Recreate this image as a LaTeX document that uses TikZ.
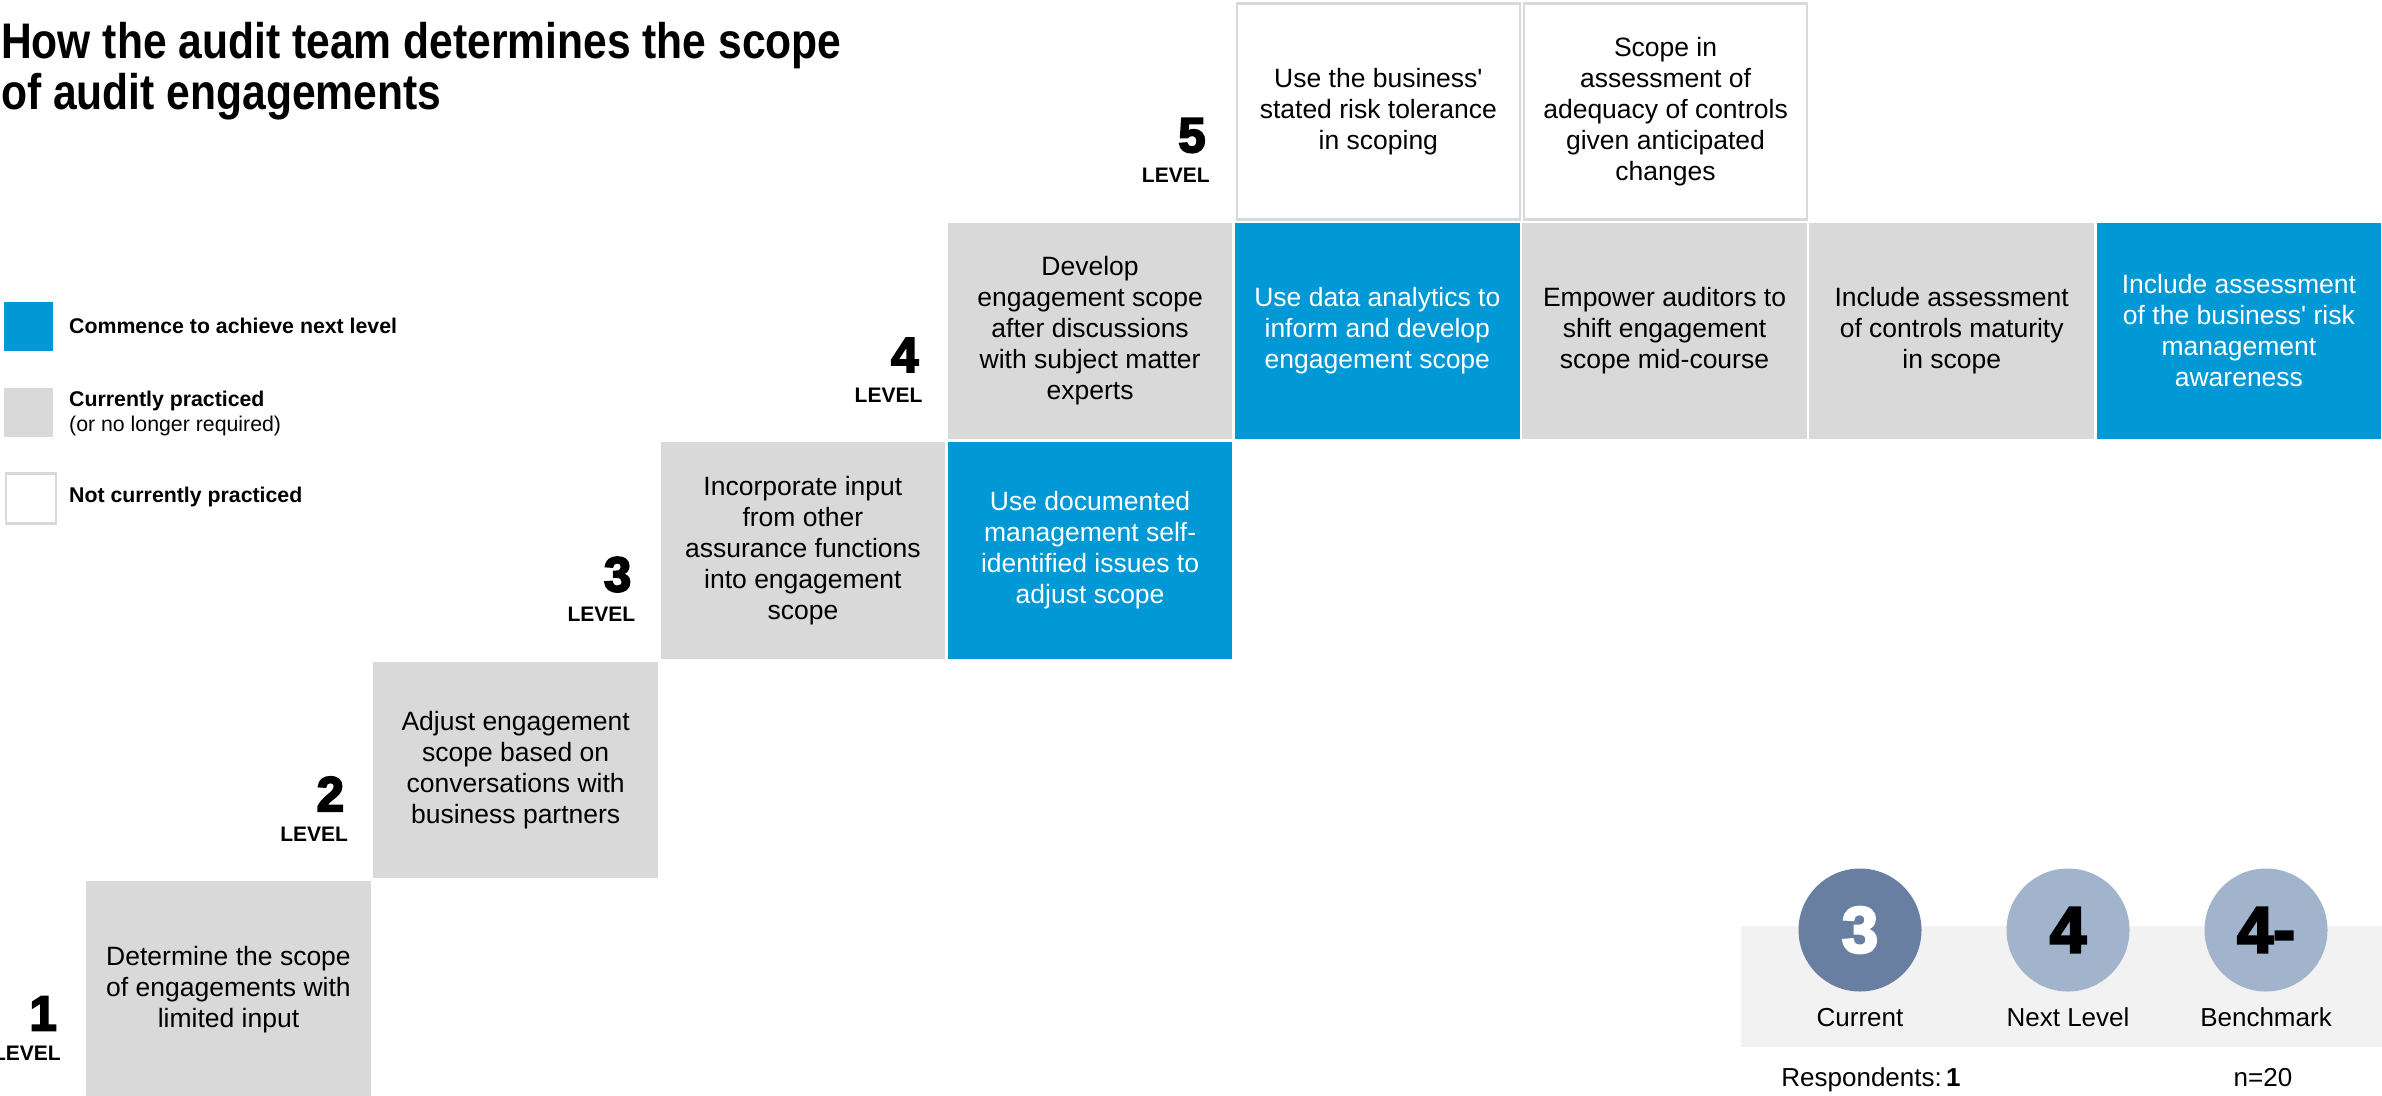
\documentclass[tikz,border=0pt]{standalone}
\usepackage{fontspec}
\setmainfont{Liberation Sans}[Ligatures=TeXOff]
\newfontfamily\titlefont{Liberation Sans}[FakeStretch=0.852]
\newfontfamily\heavyfont{Liberation Sans}[BoldFeatures={FakeBold=4}]
\definecolor{cellgrey}{HTML}{D9D9D9}
\definecolor{cellblue}{HTML}{0099D5}
\definecolor{dialdark}{HTML}{687FA1}
\definecolor{diallight}{HTML}{A2B4CC}
\definecolor{bandgrey}{HTML}{F2F2F2}
\tikzset{
  cell/.style={anchor=north west, minimum width=284.6pt, minimum height=216.5pt,
    inner sep=0pt, align=center, font=\fontsize{26.5}{31}\selectfont},
  practiced/.style={cell, fill=cellgrey},
  commence/.style={cell, fill=cellblue, text=white},
  notpracticed/.style={cell, fill=white, draw=cellgrey, line width=2.5pt},
  lvnum/.style={anchor=east, inner sep=0pt, font=\heavyfont\bfseries\fontsize{49}{49}\selectfont},
  lvword/.style={anchor=east, inner sep=0pt, font=\bfseries\fontsize{21}{21}\selectfont},
  keybox/.style={anchor=north west, minimum size=49pt, inner sep=0pt},
  keytext/.style={anchor=west, inner sep=0pt, font=\fontsize{21.3}{25}\selectfont},
  dial/.style={circle, minimum size=123pt, inner sep=0pt,
    font=\heavyfont\bfseries\fontsize{65}{65}\selectfont},
  dialtext/.style={anchor=base, inner sep=0pt, font=\fontsize{26}{30}\selectfont},
  titleline/.style={anchor=base west, inner sep=0pt, font=\titlefont\bfseries\fontsize{50}{51}\selectfont}
}
\begin{document}
\begin{tikzpicture}[x=1pt,y=-1pt]
\useasboundingbox (0,0) rectangle (2382,1095);

% title
\node[titleline] (title1) at (1,58) {How the audit team determines the scope};
\node[titleline] (title2) at (1,109) {of audit engagements};

% legend
\node[keybox, fill=cellblue] (keyblue) at (4,302) {};
\node[keytext, font=\bfseries\fontsize{21.3}{25}\selectfont] (keybluetext) at (69,326) {Commence to achieve next level};
\node[keybox, fill=cellgrey] (keygrey) at (4,388) {};
\node[keytext, font=\bfseries\fontsize{21.3}{25}\selectfont] (keygreytext) at (69,401) {Currently practiced};
\node[keytext] (keygreynote) at (69,426) {(or no longer required)};
\node[keybox, fill=white, draw=cellgrey, line width=2.5pt, minimum size=50pt] (keywhite) at (4.5,472) {};
\node[keytext, font=\bfseries\fontsize{21.3}{25}\selectfont] (keywhitetext) at (69,497) {Not currently practiced};

% level 1
\node[practiced] (l1a) at (86,881) {Determine the scope\\of engagements with\\limited input};
\node[lvnum] (n1) at (57,1013.5) {1};
\node[lvword] (w1) at (61,1053.5) {LEVEL};

% level 2
\node[practiced] (l2a) at (373.2,661.5) {Adjust engagement\\scope based on\\conversations with\\business partners};
\node[lvnum] (n2) at (344.2,794) {2};
\node[lvword] (w2) at (348.2,834) {LEVEL};

% level 3
\node[practiced] (l3a) at (660.4,442) {Incorporate input\\from other\\assurance functions\\into engagement\\scope};
\node[commence] (l3b) at (947.6,442) {Use documented\\management self-\\identified issues to\\adjust scope};
\node[lvnum] (n3) at (631.4,574.5) {3};
\node[lvword] (w3) at (635.4,614.5) {LEVEL};

% level 4
\node[practiced] (l4a) at (947.6,222.5) {Develop\\engagement scope\\after discussions\\with subject matter\\experts};
\node[commence] (l4b) at (1234.8,222.5) {Use data analytics to\\inform and develop\\engagement scope};
\node[practiced] (l4c) at (1522,222.5) {Empower auditors to\\shift engagement\\scope mid-course};
\node[practiced] (l4d) at (1809.2,222.5) {Include assessment\\of controls maturity\\in scope};
\node[commence] (l4e) at (2096.4,222.5) {Include assessment\\of the business' risk\\management\\awareness};
\node[lvnum] (n4) at (918.6,355) {4};
\node[lvword] (w4) at (922.6,395) {LEVEL};

% level 5
\node[notpracticed, minimum width=283pt, minimum height=216pt] (l5a) at (1235.6,2) {Use the business'\\stated risk tolerance\\in scoping};
\node[notpracticed, minimum width=283pt, minimum height=216pt] (l5b) at (1522.8,2) {Scope in\\assessment of\\adequacy of controls\\given anticipated\\changes};
\node[lvnum] (n5) at (1205.8,135.5) {5};
\node[lvword] (w5) at (1209.8,175.5) {LEVEL};

% maturity summary
\node[anchor=north west, fill=bandgrey, minimum width=641pt, minimum height=121pt, inner sep=0pt] (band) at (1741,926) {};
\node[dial, fill=dialdark, text=white] (current) at (1860,930) {3};
\node[dial, fill=diallight] (next) at (2068,930) {4};
\node[dial, fill=diallight] (bench) at (2266,930) {4-};
\node[dialtext] (currentlbl) at (1860,1026) {Current};
\node[dialtext] (nextlbl) at (2068,1026) {Next Level};
\node[dialtext] (benchlbl) at (2266,1026) {Benchmark};
\node[dialtext] (resp) at (1871,1086) {Respondents:\,\textbf{1}};
\node[dialtext] (count) at (2263,1086) {n=20};
\end{tikzpicture}
\end{document}
